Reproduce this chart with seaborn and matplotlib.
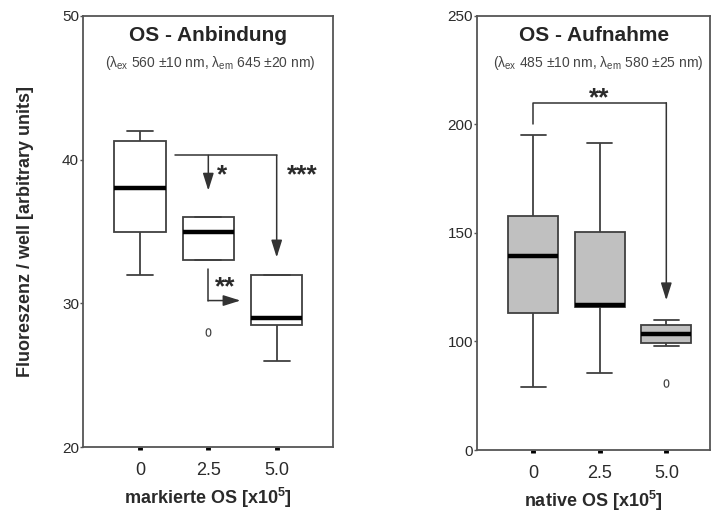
import numpy as np
import pandas as pd
import matplotlib
matplotlib.use('Agg')
import matplotlib.pyplot as plt
import seaborn as sns

# Style
sns.set_style('white')
plt.rcParams['font.family'] = ['Liberation Sans', 'DejaVu Sans']
plt.rcParams['mathtext.fontset'] = 'custom'
plt.rcParams['mathtext.rm'] = 'Liberation Sans'
plt.rcParams['mathtext.it'] = 'Liberation Sans'
plt.rcParams['mathtext.bf'] = 'Liberation Sans:bold'

# Daten
categories = ['0', '2.5', '5.0']

# Links: markierte OS (9 Werte pro Gruppe -> Quartile an Index 2/4/6)
bind_0 = [32, 34, 35, 36.5, 38, 40, 41.3, 41.6, 42]
bind_25 = [28, 33, 33, 34, 35, 35.5, 36, 36, 36]
bind_50 = [26, 27, 28.5, 28.8, 29, 30, 32, 32, 32]

# Rechts: native OS
upt_0 = [58, 90, 113, 125, 139.5, 150, 158, 175, 195]
upt_25 = [71, 100, 116, 116.5, 117, 135, 150.5, 170, 191.5]
upt_50 = [62, 96, 99, 101, 103.5, 105, 107.5, 109, 110]

df_bind = pd.DataFrame({
    'conc': np.repeat(categories, [len(bind_0), len(bind_25), len(bind_50)]),
    'value': bind_0 + bind_25 + bind_50,
})
df_upt = pd.DataFrame({
    'conc': np.repeat(categories, [len(upt_0), len(upt_25), len(upt_50)]),
    'value': upt_0 + upt_25 + upt_50,
})

EDGE = '#404040'
TXT = '#2a2a2a'
LINE = '#333333'

fig = plt.figure(figsize=(7.11, 5.14), dpi=100)
ax1 = fig.add_axes([0.117, 0.130, 0.351, 0.839])
ax2 = fig.add_axes([0.671, 0.1245, 0.328, 0.8445])


def draw_box(ax, data, fill):
    sns.boxplot(data=data, x='conc', y='value', order=categories, ax=ax,
                width=0.75, color=fill, whis=1.5,
                boxprops=dict(facecolor=fill, edgecolor=EDGE, linewidth=1.3),
                whiskerprops=dict(color=EDGE, linewidth=1.3),
                capprops=dict(color=EDGE, linewidth=1.3),
                medianprops=dict(color='black', linewidth=3.2),
                flierprops=dict(marker='$0$', markersize=6,
                                markerfacecolor='#333333',
                                markeredgecolor='#333333',
                                markeredgewidth=0.1, linewidth=0))


def style_axes(ax):
    for s in ax.spines.values():
        s.set_color('#555555')
        s.set_linewidth(1.3)
    ax.tick_params(axis='y', left=True, length=2, width=1, color='#555555',
                   pad=1, labelsize=11, labelcolor=TXT)
    ax.tick_params(axis='x', bottom=True, length=2.5, width=3.5,
                   color='black', pad=8, labelsize=13, labelcolor=TXT)


# ---------------- Links ----------------
draw_box(ax1, df_bind, 'white')
ax1.set_ylim(20, 50)
ax1.set_yticks([20, 30, 40, 50])
ax1.set_xlim(-0.83, 2.82)
style_axes(ax1)
ax1.set_xlabel('markierte OS [x10$^{\\mathbf{5}}$]', fontsize=13,
               fontweight='bold', color=TXT, labelpad=5)
ax1.set_ylabel('Fluoreszenz / well [arbitrary units]', fontsize=13,
               fontweight='bold', color=TXT, labelpad=20)
ax1.text(0.5, 0.955, 'OS - Anbindung', transform=ax1.transAxes,
         ha='center', va='center', fontsize=15, fontweight='bold')
ax1.text(0.51, 0.892,
         r'($\lambda_{\mathrm{ex}}$ 560 ±10 nm, $\lambda_{\mathrm{em}}$ 645 ±20 nm)',
         transform=ax1.transAxes, ha='center', va='center', fontsize=10,
         color='#444444')

arrow = dict(arrowstyle='-|>,head_length=0.7,head_width=0.22', color=LINE,
             lw=1.1, mutation_scale=15, shrinkA=0, shrinkB=0)
ax1.plot([0.51, 2.0], [40.3, 40.3], color=LINE, lw=1.1)
ax1.annotate('', xy=(1, 37.85), xytext=(1, 40.3), arrowprops=arrow)
ax1.annotate('', xy=(2, 33.2), xytext=(2, 40.3), arrowprops=arrow)
ax1.plot([1, 1], [32.4, 30.2], color=LINE, lw=1.1)
ax1.annotate('', xy=(1.47, 30.2), xytext=(1, 30.2), arrowprops=arrow)
ax1.text(1.2, 38.9, '*', fontsize=19, fontweight='bold', ha='center',
         va='center', color=TXT)
ax1.text(2.38, 38.9, '***', fontsize=19, fontweight='bold', ha='center',
         va='center', color=TXT)
ax1.text(1.24, 31.1, '**', fontsize=19, fontweight='bold', ha='center',
         va='center', color=TXT)


# ---------------- Rechts ----------------
def fwd(y):
    y = np.asarray(y, dtype=float)
    return np.where(y < 100, 50 + y / 2, y)


def inv(t):
    t = np.asarray(t, dtype=float)
    return np.where(t < 100, (t - 50) * 2, t)


draw_box(ax2, df_upt, '#c0c0c0')
ax2.set_yscale('function', functions=(fwd, inv))
ax2.set_ylim(0, 250)
ax2.set_yticks([0, 100, 150, 200, 250])
ax2.set_xlim(-0.84, 2.66)
style_axes(ax2)
ax2.set_xlabel('native OS [x10$^{\\mathbf{5}}$]', fontsize=13,
               fontweight='bold', color=TXT, labelpad=5)
ax2.set_ylabel('')
ax2.text(0.5, 0.955, 'OS - Aufnahme', transform=ax2.transAxes,
         ha='center', va='center', fontsize=15, fontweight='bold')
ax2.text(0.52, 0.892,
         r'($\lambda_{\mathrm{ex}}$ 485 ±10 nm, $\lambda_{\mathrm{em}}$ 580 ±25 nm)',
         transform=ax2.transAxes, ha='center', va='center', fontsize=10,
         color='#444444')

ax2.plot([0, 0, 2], [200, 210, 210], color=LINE, lw=1.1)
ax2.annotate('', xy=(2, 119), xytext=(2, 210), arrowprops=arrow)
ax2.text(1.0, 212, '**', fontsize=19, fontweight='bold', ha='center',
         va='center', color=TXT)

fig.savefig('out.png', dpi=100)
